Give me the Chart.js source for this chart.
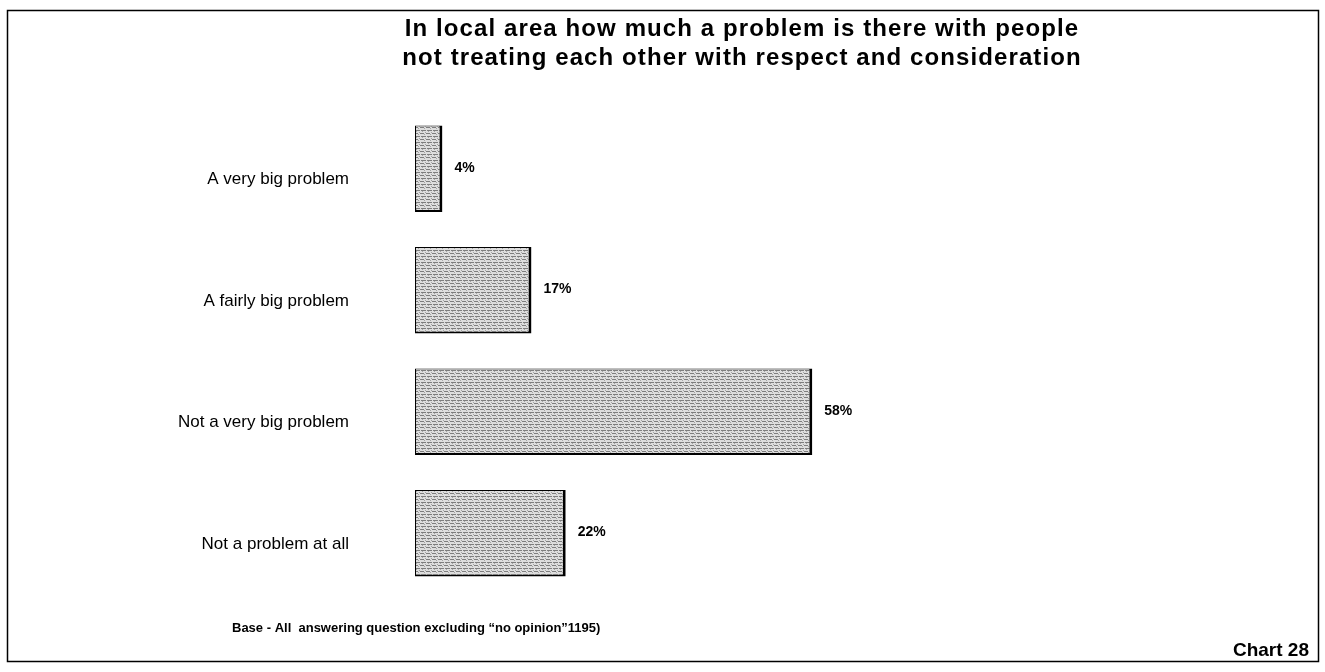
<!DOCTYPE html>
<html>
<head>
<meta charset="utf-8">
<script src="https://cdn.jsdelivr.net/npm/chart.js@4/dist/chart.umd.min.js"></script>
<style>
  html, body { margin: 0; padding: 0; background: #ffffff; }
  #wrap { width: 1325px; height: 672px; position: relative; }
</style>
</head>
<body>
<div id="wrap"><canvas id="chart" width="1325" height="672"></canvas></div>
<script>
// Survey responses (% of those answering)
const categories = [
  'A very big problem',
  'A fairly big problem',
  'Not a very big problem',
  'Not a problem at all'
];
const percentages = [4, 17, 58, 22];
const titleLines = [
  'In local area how much a problem is there with people',
  'not treating each other with respect and consideration'
];
const baseNote = 'Base - All  answering question excluding \u201cno opinion\u201d1195)';
const chartNumber = 'Chart 28';

// Grey dithered fill for the bars
function makeBarPattern() {
  const c = document.createElement('canvas');
  c.width = 6; c.height = 6;
  const g = c.getContext('2d');
  g.fillStyle = '#dedede';
  g.fillRect(0, 0, 6, 6);
  g.fillStyle = '#7e7e7e';
  g.fillRect(0, 1, 4, 1);
  g.fillRect(1, 4, 5, 1);
  g.fillStyle = '#a4a4a4';
  g.fillRect(4, 2, 1, 1);
  g.fillRect(2, 5, 1, 1);
  g.fillRect(5, 0, 1, 1);
  return g.createPattern(c, 'repeat');
}

const textPlugin = {
  id: 'chartTexts',
  beforeDraw(chart) {
    const ctx = chart.ctx;
    ctx.save();
    ctx.strokeStyle = '#000';
    ctx.lineWidth = 1.5;
    ctx.strokeRect(7.5, 10.5, 1311, 651);
    ctx.restore();
  },
  afterDatasetsDraw(chart) {
    const ctx = chart.ctx;
    ctx.save();
    ctx.fillStyle = '#000';
    // title
    ctx.font = "bold 24px 'Liberation Sans', Arial, sans-serif";
    ctx.letterSpacing = '1.1px';
    ctx.textAlign = 'center';
    ctx.textBaseline = 'middle';
    ctx.fillText(titleLines[0], 742, 29);
    ctx.fillText(titleLines[1], 742, 58);
    ctx.letterSpacing = '0px';
    // value labels
    const meta = chart.getDatasetMeta(0);
    ctx.font = "bold 14px 'Liberation Sans', Arial, sans-serif";
    ctx.textAlign = 'left';
    meta.data.forEach((bar, i) => {
      ctx.fillText(percentages[i] + '%', bar.x + 12, bar.y - 1);
    });
    // base note and chart number
    ctx.font = "bold 13px 'Liberation Sans', Arial, sans-serif";
    ctx.fillText(baseNote, 232, 628);
    ctx.font = "bold 19px 'Liberation Sans', Arial, sans-serif";
    ctx.textAlign = 'right';
    ctx.fillText(chartNumber, 1309, 651);
    ctx.restore();
  }
};

new Chart(document.getElementById('chart'), {
  type: 'bar',
  data: {
    labels: categories,
    datasets: [{
      data: percentages,
      backgroundColor: makeBarPattern(),
      borderColor: '#000',
      borderWidth: { left: 1, top: 1, right: 3, bottom: 2 },
      borderSkipped: false,
      barPercentage: 0.71,
      categoryPercentage: 1
    }]
  },
  options: {
    indexAxis: 'y',
    responsive: false,
    animation: false,
    layout: { padding: { left: 0, right: 225, top: 108, bottom: 78 } },
    plugins: { legend: { display: false }, title: { display: false }, tooltip: { enabled: false } },
    scales: {
      x: { display: false, min: 0, max: 100 },
      y: {
        grid: { display: false, drawTicks: false },
        border: { display: false },
        ticks: {
          padding: 66,
          labelOffset: 11,
          color: '#000',
          font: { family: "'Liberation Sans', Arial, sans-serif", size: 17 }
        },
        afterFit(scale) { scale.width = 415; }
      }
    }
  },
  plugins: [textPlugin]
});
</script>
</body>
</html>
